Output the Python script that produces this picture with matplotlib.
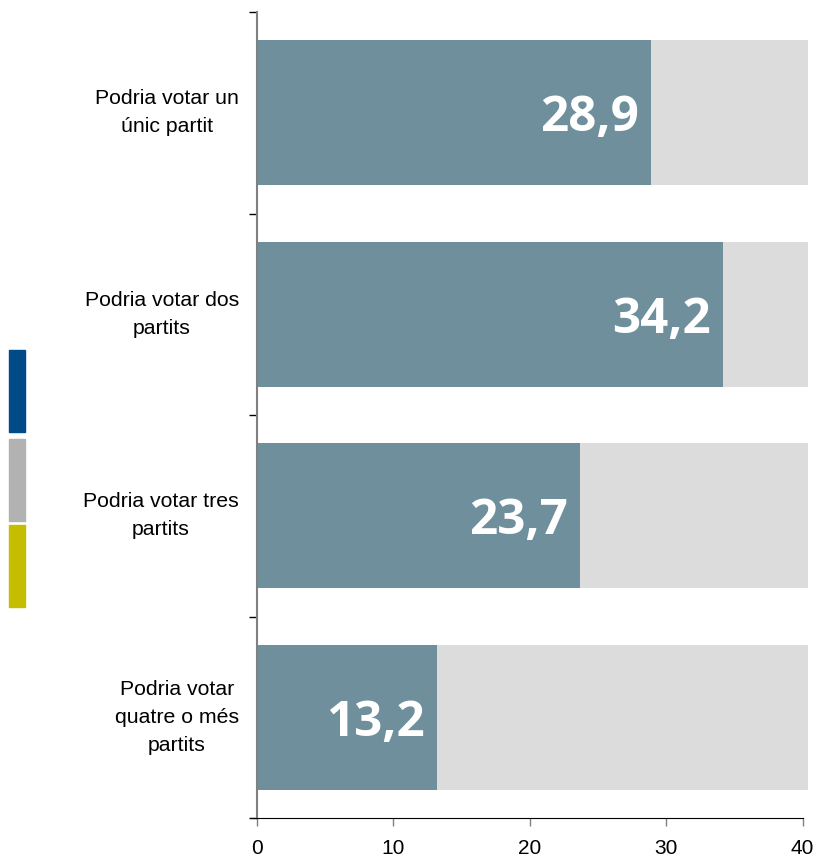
import numpy as np
import matplotlib.pyplot as plt
from matplotlib.patches import Rectangle

# share of respondents by number of parties they could vote for
categories = ["Podria votar un\núnic partit",
              "Podria votar dos\npartits",
              "Podria votar tres\npartits",
              "Podria votar\nquatre o més\npartits"]
values = [28.9, 34.2, 23.7, 13.2]
total = 100.0
xticks = [0, 10, 20, 30, 40]

BAR = "#6E8F9B"
REST = "#DCDCDC"

fig = plt.figure(figsize=(8.18, 8.59), dpi=100)
ax = fig.add_axes([257/818, 1-818/859, (808-257)/818, (818-12)/859])

y = np.arange(len(values))
vals = np.array(values)
ax.barh(y, vals, height=0.72, color=BAR, zorder=2)
ax.barh(y, total - vals, left=vals, height=0.72, color=REST, zorder=1)

for yi, v in zip(y, values):
    ax.annotate(f"{v:.1f}".replace(".", ","), xy=(v, yi), xytext=(-9, 0),
                textcoords="offset points", ha="right", va="center_baseline",
                color="white", fontsize=35.5, fontweight="bold", family="Open Sans")

ax.set_xlim(0, 40.4)
ax.set_ylim(len(values) - 0.5, -0.5)
ax.set_xticks(xticks)
ax.set_xticklabels([str(t) for t in xticks], fontsize=15, family="Liberation Sans")
ax.tick_params(axis="x", length=6, width=1, color="#808080", pad=9)

# y ticks sit on the boundaries between categories
ax.set_yticks(np.arange(len(values) + 1) - 0.5)
ax.set_yticklabels([])
ax.tick_params(axis="y", length=6, width=1, color="black")
for yi, lab in zip(y, categories):
    ax.annotate(lab, xy=(0, yi), xycoords="data", xytext=(-13, 0),
                textcoords="offset points", ha="right", va="center",
                multialignment="center", fontsize=15.3,
                family="Liberation Sans", linespacing=1.6)

for s in ["top", "right"]:
    ax.spines[s].set_visible(False)
ax.spines["left"].set_color("#808080")
ax.spines["left"].set_linewidth(1.5)
ax.spines["bottom"].set_color("black")
ax.spines["bottom"].set_bounds(-0.45, 40)

# colour key strips on the left edge
for y0, y1, c in [(350, 432, "#004B87"), (439, 521, "#B2B2B2"), (525, 607, "#C5BE00")]:
    fig.patches.append(Rectangle((9/818, 1-y1/859), 16/818, (y1-y0)/859,
                                 transform=fig.transFigure, color=c))

fig.savefig("out.png", dpi=100)
